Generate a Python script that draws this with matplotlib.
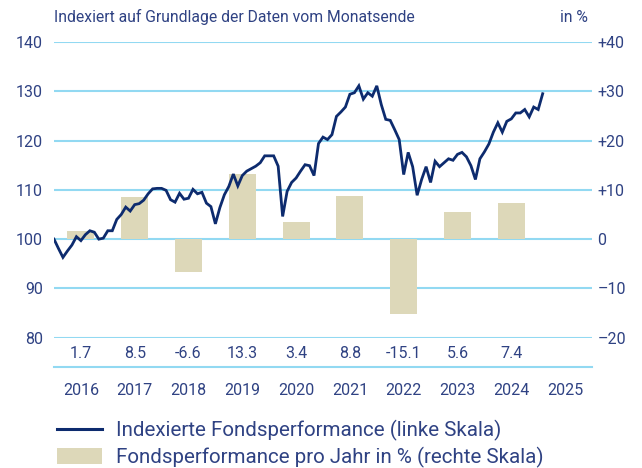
import numpy as np
import matplotlib
matplotlib.use('Agg')
import matplotlib.pyplot as plt
from matplotlib.transforms import blended_transform_factory
from matplotlib.lines import Line2D
from matplotlib.patches import Patch

# colours
NAVY = '#0d2b6e'
TEXT = '#2f4283'
GRID = '#92d9f2'
BEIGE = '#ddd8b9'

# data
years = [2016, 2017, 2018, 2019, 2020, 2021, 2022, 2023, 2024]
year_labels = ['2016', '2017', '2018', '2019', '2020', '2021', '2022', '2023', '2024', '2025']
annual_return = [1.7, 8.5, -6.6, 13.3, 3.4, 8.8, -15.1, 5.6, 7.4]

# month-end index values, Dec 2015 = 100 ... Jan 2025
index_values = [
    100.0, 98.1, 96.3, 97.6, 98.8, 100.5, 99.7, 100.9, 101.7, 101.4, 100.0, 100.2,
    101.7, 101.7, 104.0, 105.0, 106.5, 105.7, 107.0, 107.2, 107.9, 109.2, 110.2, 110.3,
    110.3, 109.9, 108.0, 107.5, 109.3, 108.1, 108.3, 110.1, 109.2, 109.5, 107.3, 106.6,
    103.1, 106.4, 109.0, 110.7, 113.2, 110.8, 112.9, 113.8, 114.3, 114.8, 115.5, 116.9,
    116.9, 116.9, 114.8, 104.6, 109.7, 111.5, 112.4, 113.8, 115.1, 114.9, 112.9, 119.4,
    120.7, 120.2, 121.2, 124.9, 125.8, 126.8, 129.4, 129.7, 131.1, 128.4, 129.7, 129.0,
    131.1, 127.3, 124.3, 124.1, 122.2, 120.2, 113.1, 117.6, 114.7, 108.9, 112.1, 114.7,
    111.5, 115.8, 114.7, 115.5, 116.3, 116.0, 117.2, 117.6, 116.7, 114.9, 112.1, 116.3,
    117.7, 119.3, 121.7, 123.6, 121.7, 123.9, 124.4, 125.6, 125.6, 126.3, 124.8, 126.8,
    126.3, 129.5,
]

left_ticks = [80, 90, 100, 110, 120, 130, 140]
right_ticks = [-20, -10, 0, 10, 20, 30, 40]
right_labels = ['\u201320', '\u201310', '0', '+10', '+20', '+30', '+40']

plt.rcParams['font.family'] = ['Roboto', 'DejaVu Sans']

fig = plt.figure(figsize=(6.42, 4.68), dpi=100)
ax = fig.add_axes([0.0841, 0.2784, 0.8380, 0.6319])
ax2 = ax.twinx()

# bars on the right scale
ax2.bar(np.array(years) + 0.5, annual_return, width=0.5, color=BEIGE, zorder=2)
ax2.set_ylim(-20, 40)
ax2.set_yticks(right_ticks)
ax2.set_yticklabels(right_labels)

# line on the left scale, drawn above the bars
x_months = 2016 + np.arange(len(index_values)) / 12.0
ax.set_zorder(ax2.get_zorder() + 1)
ax.patch.set_visible(False)
ax.plot(x_months, index_values, color=NAVY, lw=2.0, solid_joinstyle='miter', zorder=3)
ax.set_ylim(80, 140)
ax.set_yticks(left_ticks)
ax.set_xlim(2016, 2026)
ax.set_xticks([])

for y in left_ticks:
    ax2.axhline(y - 100, color=GRID, lw=1.5, zorder=1)

for a in (ax, ax2):
    for s in a.spines.values():
        s.set_visible(False)
    a.tick_params(axis='y', length=0, labelsize=11.5, labelcolor=TEXT)
ax.tick_params(axis='y', pad=8)
ax2.tick_params(axis='y', pad=4)

# value labels, separator line and year labels below the plot
trans = blended_transform_factory(ax.transData, ax.transAxes)
for yr, val in zip(years, annual_return):
    ax.text(yr + 0.5, -0.052, f'{val:.1f}', transform=trans, ha='center', va='center',
            fontsize=11.5, color=TEXT)
ax.plot([0, 1], [-0.098, -0.098], transform=ax.transAxes, color=GRID, lw=1.5, clip_on=False)
for i, lab in enumerate(year_labels):
    ax.text(2016.5 + i, -0.177, lab, transform=trans, ha='center', va='center',
            fontsize=11.5, color=TEXT)

ax.text(0, 1.083, 'Indexiert auf Grundlage der Daten vom Monatsende', transform=ax.transAxes,
        ha='left', va='center', fontsize=11.3, color=TEXT)
ax.text(0.993, 1.083, 'in %', transform=ax.transAxes, ha='right', va='center',
        fontsize=11.3, color=TEXT)

handles = [Line2D([], [], color=NAVY, lw=2.2),
           Patch(facecolor=BEIGE, edgecolor='none')]
labels = ['Indexierte Fondsperformance (linke Skala)',
          'Fondsperformance pro Jahr in % (rechte Skala)']
leg = fig.legend(handles, labels, loc='upper left', bbox_to_anchor=(0.089, 0.102),
                 frameon=False, fontsize=14.8, handlelength=2.2, handleheight=0.8,
                 handletextpad=0.65, labelspacing=0.25, borderaxespad=0, borderpad=0)
for t in leg.get_texts():
    t.set_color(TEXT)

fig.savefig('out.png', dpi=100)
